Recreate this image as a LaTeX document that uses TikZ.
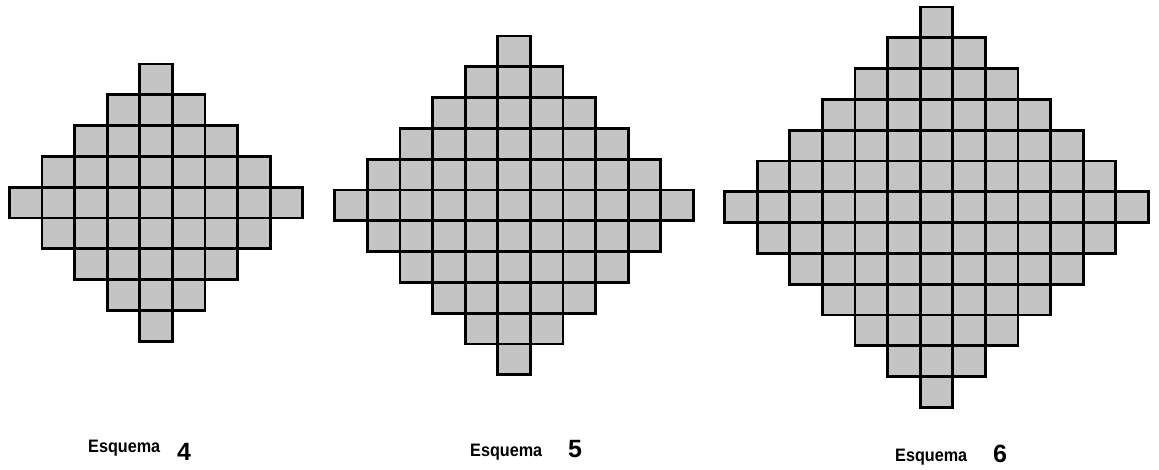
\documentclass[tikz,border=0pt]{standalone}
\usepackage{fontspec}
\setmainfont{Liberation Sans}
\newfontfamily\labfont[FakeStretch=0.9]{Liberation Sans}
\definecolor{cellgray}{RGB}{196,196,196}
\begin{document}
\begin{tikzpicture}[x=1pt,y=-1pt,
  cellfill/.style={fill=cellgray},
  celldraw/.style={draw=black,line width=2.8pt,line join=miter},
  lab/.style={anchor=base west,inner sep=0pt,font=\labfont\bfseries\fontsize{18}{18}\selectfont},
  num/.style={anchor=base west,inner sep=0pt,font=\bfseries\fontsize{25}{25}\selectfont}]
\useasboundingbox (0,0) rectangle (1159,470);
\def\cw{32.6}
\def\ch{30.8}
\foreach \n/\cx/\ty in {4/156/64,5/514/36,6/936.5/7}{
  \pgfmathtruncatemacro{\rows}{2*\n}
  \foreach \r in {0,...,\rows}{
    \pgfmathtruncatemacro{\k}{\n-abs(\r-\n)}
    \pgfmathtruncatemacro{\w}{2*\k}
    \foreach \c in {0,...,\w}{
      \path[cellfill] ({\cx-(\k+0.5)*\cw+\c*\cw},{\ty+\r*\ch}) rectangle ++(\cw,\ch);
    }
  }
  \foreach \r in {0,...,\rows}{
    \pgfmathtruncatemacro{\k}{\n-abs(\r-\n)}
    \pgfmathtruncatemacro{\w}{2*\k}
    \foreach \c in {0,...,\w}{
      \path[celldraw] ({\cx-(\k+0.5)*\cw+\c*\cw},{\ty+\r*\ch}) rectangle ++(\cw,\ch);
    }
  }
}
\node[lab] (l4) at (88,452) {Esquema};
\node[num] (n4) at (177,460) {4};
\node[lab] (l5) at (470,456) {Esquema};
\node[num] (n5) at (568,457) {5};
\node[lab] (l6) at (895,461) {Esquema};
\node[num] (n6) at (993,462) {6};
\end{tikzpicture}
\end{document}
